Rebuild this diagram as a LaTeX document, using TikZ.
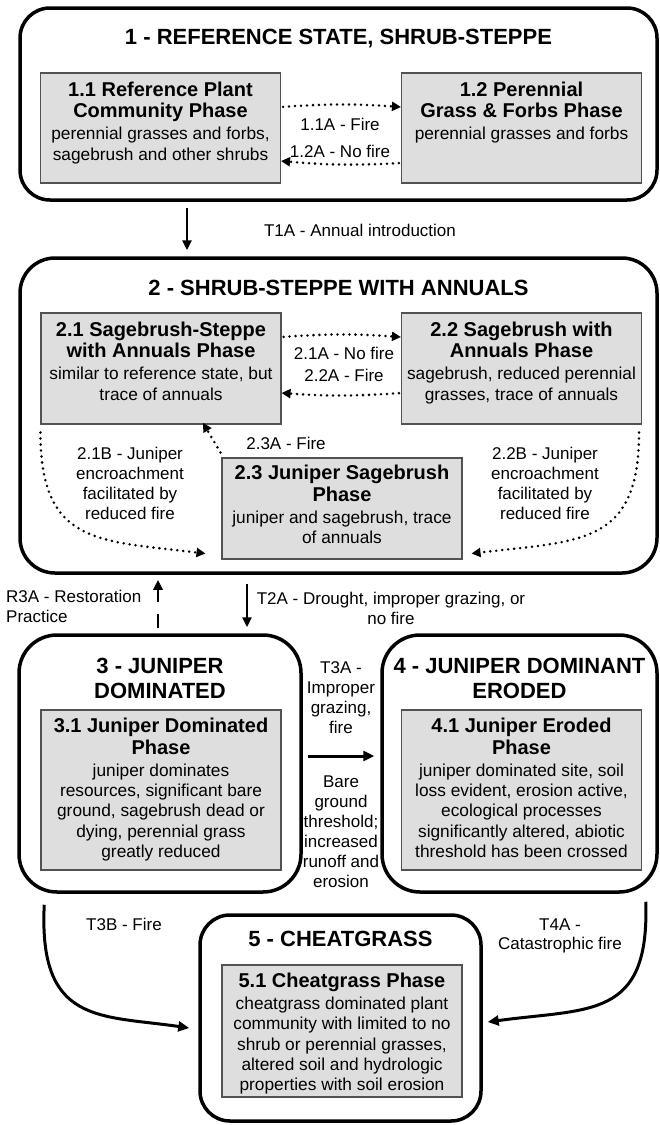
\documentclass[tikz,border=0pt]{standalone}
\usepackage{fontspec}
\setmainfont{Liberation Sans}
\usetikzlibrary{positioning,calc,arrows.meta}
\definecolor{phasefill}{gray}{0.87}
\definecolor{phaseline}{gray}{0.32}
\newcommand{\ptitle}[1]{{\bfseries\fontsize{20}{20.3}\selectfont #1}}

\begin{document}
\begin{tikzpicture}[x=1pt, y=-1pt,
  stbox/.style={draw, line width=3.5pt, rounded corners=#1, inner sep=0pt},
  sttitle/.style={align=center, inner sep=0pt, font=\bfseries\fontsize{22}{25}\selectfont},
  phbox/.style={draw=phaseline, fill=phasefill, line width=1.1pt, minimum width=240, inner sep=0pt},
  phtext/.style={align=center, inner sep=0pt, font=\fontsize{17.3}{20.3}\selectfont},
  lbl/.style={align=center, inner sep=0pt, font=\fontsize{17}{20}\selectfont},
  cyc/.style={line width=2.8pt, line cap=round, dash pattern=on 0pt off 6pt, -{Triangle[length=9pt,width=9pt]}},
  trans/.style={line width=2.5pt, -{Triangle[length=10pt,width=9pt]}},
  restore/.style={trans, dash pattern=on 14pt off 12pt},
  heavy/.style={line width=3pt, -{Triangle[length=11pt,width=10pt]}}]
\useasboundingbox (0,0) rectangle (660,1125);
% States
\node[stbox=30, minimum width=637, minimum height=192] (s1) at (338.5,104) {};
\node[stbox=35, minimum width=637, minimum height=315] (s2) at (338.5,415.5) {};
\node[stbox=38, minimum width=282, minimum height=257] (s3) at (160,763.5) {};
\node[stbox=38, minimum width=275, minimum height=257] (s4) at (519.5,763.5) {};
\node[stbox=30, minimum width=281, minimum height=206] (s5) at (340.5,1018) {};
\node[sttitle, below=23pt of s1.north] (s1t) {1 - REFERENCE STATE, SHRUB-STEPPE};
\node[sttitle, below=24pt of s2.north] (s2t) {2 - SHRUB-STEPPE WITH ANNUALS};
\node[sttitle, below=25pt of s3.north] (s3t) {3 - JUNIPER\\DOMINATED};
\node[sttitle, below=25pt of s4.north] (s4t) {4 - JUNIPER DOMINANT\\ERODED};
\node[sttitle, below=18pt of s5.north] (s5t) {5 - CHEATGRASS};
% Phases
\node[phbox, minimum height=110] (b11) at (160.5,128) {};
\node[phtext, below=9pt of b11.north] (b11t) {\ptitle{1.1 Reference Plant}\\[1.5pt]\ptitle{Community Phase}\\[1.5pt]perennial grasses and forbs,\\sagebrush and other shrubs};
\node[phbox, minimum height=110] (b12) at (521.5,128) {};
\node[phtext, below=9pt of b12.north] (b12t) {\ptitle{1.2 Perennial}\\[1.5pt]\ptitle{Grass \& Forbs Phase}\\[1.5pt]perennial grasses and forbs};
\node[phbox, minimum height=111] (b21) at (161,368.5) {};
\node[phtext, below=9pt of b21.north] (b21t) {\ptitle{2.1 Sagebrush-Steppe}\\[1.5pt]\ptitle{with Annuals Phase}\\[1.5pt]similar to reference state, but\\trace of annuals};
\node[phbox, minimum height=111] (b22) at (521.5,368.5) {};
\node[phtext, below=9pt of b22.north] (b22t) {\ptitle{2.2 Sagebrush with}\\[1.5pt]\ptitle{Annuals Phase}\\[1.5pt]sagebrush, reduced perennial\\grasses, trace of annuals};
\node[phbox, minimum height=101] (b23) at (342,508.5) {};
\node[phtext, below=7.5pt of b23.north] (b23t) {\ptitle{2.3 Juniper Sagebrush}\\[1.5pt]\ptitle{Phase}\\[1.5pt]juniper and sagebrush, trace\\of annuals};
\node[phbox, minimum height=160] (b31) at (161,790) {};
\node[phtext, below=8.5pt of b31.north] (b31t) {\ptitle{3.1 Juniper Dominated}\\[1.5pt]\ptitle{Phase}\\[1.5pt]juniper dominates\\resources, significant bare\\ground, sagebrush dead or\\dying, perennial grass\\greatly reduced};
\node[phbox, minimum height=160] (b41) at (521.5,790) {};
\node[phtext, below=8.5pt of b41.north] (b41t) {\ptitle{4.1 Juniper Eroded}\\[1.5pt]\ptitle{Phase}\\[1.5pt]juniper dominated site, soil\\loss evident, erosion active,\\ecological processes\\significantly altered, abiotic\\threshold has been crossed};
\node[phbox, minimum height=132] (b51) at (342,1031) {};
\node[phtext, below=8.5pt of b51.north] (b51t) {\ptitle{5.1 Cheatgrass Phase}\\[1.5pt]cheatgrass dominated plant\\community with limited to no\\shrub or perennial grasses,\\altered soil and hydrologic\\properties with soil erosion};
% Pathway labels
\node[lbl] (l11a) at (340,124) {1.1A - Fire};
\node[lbl] (l12a) at (340,151) {1.2A - No fire};
\node[lbl] (l21a) at (344,353) {2.1A - No fire};
\node[lbl] (l22a) at (344,375) {2.2A - Fire};
\node[lbl] (l23a) at (286,443) {2.3A - Fire};
\node[lbl, anchor=north] (l21b) at (130,447) {2.1B - Juniper\\encroachment\\facilitated by\\reduced fire};
\node[lbl, anchor=north] (l22b) at (545,447) {2.2B - Juniper\\encroachment\\facilitated by\\reduced fire};
% Transition labels
\node[lbl] (t1al) at (360,230) {T1A - Annual introduction};
\node[lbl, align=left, anchor=north west] (r3al) at (6,590) {R3A - Restoration\\Practice};
\node[lbl, anchor=north] (t2al) at (391,592) {T2A - Drought, improper grazing, or\\no fire};
\node[lbl, anchor=north] (t3al) at (341,661) {T3A -\\Improper\\grazing,\\fire};
\node[lbl, anchor=north] (thr) at (341,776) {Bare\\ground\\threshold;\\increased\\runoff and\\erosion};
\node[lbl] (t3bl) at (124,924) {T3B - Fire};
\node[lbl, anchor=north, font=\fontsize{17}{19}\selectfont] (t4al) at (560,919) {T4A -\\Catastrophic fire};
% Community pathways
\draw[cyc, shorten <=2pt] (b11.east |- 0,107) to[bend left=4] (b12.west |- 0,107);
\draw[cyc, shorten <=2pt] (b12.west |- 0,163) to[bend left=4] (b11.east |- 0,161);
\draw[cyc, shorten <=2pt] (b21.east |- 0,337) to[bend left=4] (b22.west |- 0,337);
\draw[cyc, shorten <=2pt] (b22.west |- 0,393) to[bend left=4] (b21.east |- 0,393);
\draw[cyc, shorten >=-2pt] ([shift={(-1,-5)}]b23.north west) -- (204,0 |- b21.south);
\draw[cyc] ([yshift=-8pt]b21.south west) .. controls +(0,113) and +(-106,-13) .. ($(b23.south west)+(-16,-6)$);
\draw[cyc] ([xshift=-3pt,yshift=-8pt]b22.south east) .. controls +(0,113) and +(109,-13) .. ($(b23.south east)+(9,-6)$);
% Transitions and restoration
\draw[trans, shorten <=6pt, shorten >=6pt] (187,0 |- s1.south) -- (187,0 |- s2.north);
\draw[restore, shorten <=5pt, shorten >=5pt] (158,0 |- s3.north) -- (158,0 |- s2.south);
\draw[trans, shorten <=9pt, shorten >=6pt] (247,0 |- s2.south) -- (247,0 |- s3.north);
\draw[heavy, shorten <=5pt, shorten >=6pt] (s3.east |- 0,756) -- (s4.west |- 0,756);
\draw[heavy] ($(s3.south west)+(27,11)$) .. controls +(-6,120) and +(-89,-13) .. ($(s5.west)+(-9,10)$);
\draw[heavy] ($(s4.south east)+(-13,8)$) .. controls +(4,118) and +(102,-14) .. ($(s5.east)+(5,4)$);
\end{tikzpicture}
\end{document}
